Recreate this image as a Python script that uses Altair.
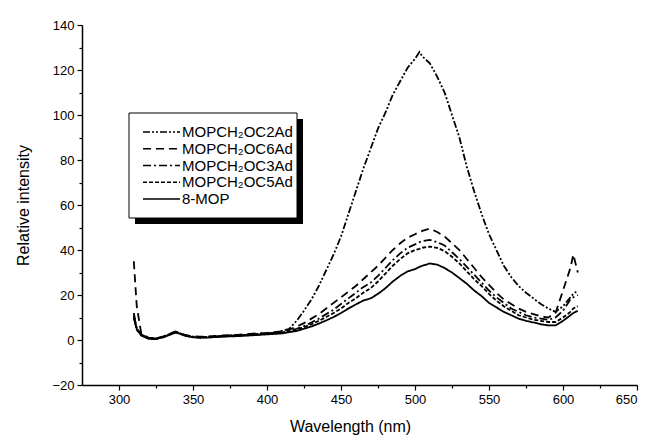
import altair as alt
import pandas as pd

# Wavelength grid (nm)
wavelength = [310, 312, 315, 320, 325, 330, 335, 338, 341, 345, 350, 355, 360, 365, 370,
              375, 380, 385, 390, 395, 400, 405, 410,
              415, 420, 425, 430, 435, 440, 445, 450, 455, 460, 465, 470, 475, 480, 485,
              490, 495, 500, 503,
              505, 510, 515, 520, 525, 530, 535, 540, 545, 550, 555, 560, 565, 570, 575,
              580, 585, 590, 595, 600, 605, 607, 610]

c2ad = [12, 5, 2.5, 0.8, 0.6, 1.4, 2.8, 3.6, 3.0, 2.0, 1.5, 1.3, 1.4, 1.6, 1.8,
        2.0, 2.1, 2.3, 2.6, 2.8, 3.0, 3.3, 4.0,
        5, 8.5, 13, 18, 24, 31, 38, 46, 56, 66, 76, 85, 94, 101, 109,
        115, 121, 125, 128,
        126, 123, 117, 110, 100, 90, 77, 66, 56, 47, 40, 33, 28, 24, 21,
        18.5, 16, 14, 12.5, 15, 19, 20.5, 22]

c6ad = [35, 15, 3.0, 1.0, 0.8, 1.6, 3.0, 3.8, 3.2, 2.2, 1.7, 1.5, 1.6, 1.8, 2.0,
        2.2, 2.3, 2.5, 2.8, 3.0, 3.2, 3.5, 3.8,
        4.5, 6, 7.5, 9.5, 11.5, 14, 16.5, 19, 21.5, 24, 27, 30, 33, 36.5, 40,
        43, 45.5, 47, 48,
        48.5, 49.5, 48, 46, 43, 40, 36, 32, 28, 24.5, 21, 18, 16, 14, 12.5,
        11.5, 10.5, 10, 12, 22, 32, 38, 30]

c3ad = [11, 5, 2.5, 0.7, 0.6, 1.4, 2.7, 3.5, 3.0, 2.0, 1.4, 1.2, 1.3, 1.5, 1.7,
        1.9, 2.0, 2.2, 2.4, 2.6, 2.8, 3.0, 3.3,
        4, 5, 6.2, 7.8, 9.5, 11.5, 13.5, 16, 18.5, 21, 23.5, 25.5, 28.5, 32, 35.5,
        38.5, 41, 42.5, 43.5,
        44, 44.5, 43.5, 42, 39, 36, 32.5, 29, 25.5, 22, 19, 16.5, 14, 12.5, 11,
        10, 9.5, 9, 10, 13, 18, 19, 20]

c5ad = [10, 4.5, 2.2, 0.6, 0.5, 1.3, 2.6, 3.4, 2.9, 1.9, 1.3, 1.1, 1.2, 1.4, 1.6,
        1.8, 1.9, 2.1, 2.3, 2.5, 2.7, 2.9, 3.1,
        3.8, 4.5, 5.7, 7, 8.5, 10.2, 12, 14, 16.5, 18.5, 21, 23, 26, 29.5, 33,
        36, 38.5, 40, 40.5,
        41, 41.5, 41, 39.5, 37, 34, 30.5, 27, 24, 20.5, 17.5, 15, 13, 11, 10,
        9, 8.5, 8, 8, 10, 12.5, 14, 15]

mop = [10, 5, 2.0, 0.5, 0.4, 1.2, 2.5, 3.3, 2.8, 1.8, 1.2, 1.0, 1.1, 1.3, 1.5,
       1.6, 1.7, 1.9, 2.1, 2.3, 2.5, 2.7, 2.9,
       3.5, 4, 5, 6, 7.3, 8.7, 10.2, 12, 14, 15.8, 17.5, 18.5, 20.5, 23, 26,
       28.5, 30.5, 31.5, 32.5,
       33, 34, 33.5, 32, 30, 27.5, 25, 22, 19.5, 16.5, 14.5, 12.5, 11, 9.5, 8.5,
       7.8, 7, 6.5, 6.5, 8.5, 11, 12, 13]

series_names = ["MOPCH\u2082OC2Ad", "MOPCH\u2082OC6Ad", "MOPCH\u2082OC3Ad",
                "MOPCH\u2082OC5Ad", "8-MOP"]
series_values = [c2ad, c6ad, c3ad, c5ad, mop]
dash_styles = [[7, 2, 2, 2, 2, 2], [8, 5], [8, 3, 2, 3], [4, 2], [1, 0]]

x_ticks = [300, 325, 350, 375, 400, 425, 450, 475, 500, 525, 550, 575, 600, 625, 650]
y_ticks = [-20, -10, 0, 10, 20, 30, 40, 50, 60, 70, 80, 90, 100, 110, 120, 130, 140]

rows = []
for name, vals in zip(series_names, series_values):
    for w, v in zip(wavelength, vals):
        rows.append({"wl": w, "val": v, "series": name})
df = pd.DataFrame(rows)
legend_df = pd.DataFrame({"series": series_names, "idx": list(range(len(series_names)))})

FONT = "Liberation Sans"
dash_scale = alt.Scale(domain=series_names, range=dash_styles)

lines = alt.Chart(df).mark_line(strokeWidth=1.8, color="black").encode(
    x=alt.X("wl:Q",
            scale=alt.Scale(domain=[275, 650], nice=False, zero=False),
            axis=alt.Axis(values=x_ticks, title="Wavelength (nm)",
                          labelExpr="datum.value % 50 === 0 ? datum.label : ''",
                          tickSize={"condition": {"test": "datum.value % 50 === 0", "value": 5}, "value": 3},
                          titleX=268, titleY=41, titleBaseline="middle")),
    y=alt.Y("val:Q",
            scale=alt.Scale(domain=[-20, 140], nice=False, zero=False),
            axis=alt.Axis(values=y_ticks, title="Relative intensity",
                          labelExpr="datum.value % 20 === 0 ? datum.label : ''",
                          tickSize={"condition": {"test": "datum.value % 20 === 0", "value": 5}, "value": 3},
                          titleX=-59, titleBaseline="middle")),
    strokeDash=alt.StrokeDash("series:N", scale=dash_scale, legend=None),
)

# legend: shadow, box, sample lines, labels
one = pd.DataFrame({"k": [0]})
shadow = alt.Chart(one).mark_rect(color="black").encode(
    x=alt.value(53), x2=alt.value(221), y=alt.value(94), y2=alt.value(199)
)
box = alt.Chart(one).mark_rect(fill="white", stroke="black", strokeWidth=1).encode(
    x=alt.value(47), x2=alt.value(215), y=alt.value(88), y2=alt.value(193)
)
leg_y = alt.Y("idx:Q", scale=alt.Scale(domain=[0, 4], range=[107, 174]), axis=None)
leg_lines = alt.Chart(legend_df).mark_rule(strokeWidth=1.6, color="black").encode(
    x=alt.value(61), x2=alt.value(98), y=leg_y,
    strokeDash=alt.StrokeDash("series:N", scale=dash_scale, legend=None),
)
leg_text = alt.Chart(legend_df).mark_text(align="left", baseline="middle", font=FONT,
                                          fontSize=15, color="black").encode(
    x=alt.value(100), y=leg_y, text="series:N"
)

chart = alt.layer(lines, shadow, box, leg_lines, leg_text).resolve_scale(
    y="independent"
).properties(
    width=555, height=360,
    background="white",
    autosize=alt.AutoSizeParams(type="none"),
    padding={"left": 74, "top": 17, "right": 6, "bottom": 50},
).configure_view(stroke=None).configure_axis(
    grid=False, domainColor="black", domainWidth=1.5, tickColor="black", tickWidth=1.2,
    labelColor="black", labelFont=FONT, labelFontSize=13, labelPadding=3,
    titleColor="black", titleFont=FONT, titleFontSize=16, titleFontWeight="normal",
)

chart.save("out.html", embed_options={"renderer": "svg", "actions": False})
